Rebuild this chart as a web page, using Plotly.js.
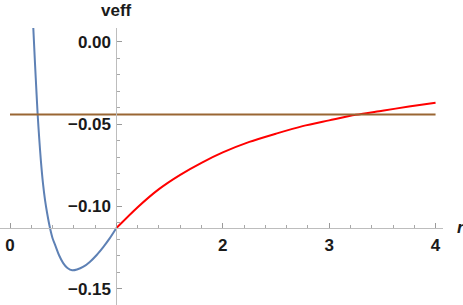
<!DOCTYPE html>
<html>
<head>
<meta charset="utf-8">
<script src="https://cdn.plot.ly/plotly-3.0.1.min.js"></script>
<style>html,body{margin:0;padding:0;background:#fff;}#chart{width:463px;height:305px;}</style>
</head>
<body>
<div id="chart"></div>
<script>
// ---- data ----
const rInner = [0.219, 0.235, 0.25, 0.26, 0.275, 0.29, 0.31, 0.33, 0.35, 0.376, 0.40, 0.43, 0.46, 0.50, 0.54, 0.585, 0.63, 0.69, 0.75, 0.815, 0.88, 0.94, 1.0];
const vInner = [0.0085, -0.0130, -0.0320, -0.0441, -0.0590, -0.0720, -0.0860, -0.0965, -0.1045, -0.1132, -0.1194, -0.1245, -0.1296, -0.1345, -0.1375, -0.1389, -0.1384, -0.1367, -0.1338, -0.1296, -0.1245, -0.1192, -0.1132];
const rOuter = [1.0, 1.2, 1.4, 1.6, 1.8, 2.0, 2.25, 2.5, 2.75, 3.0, 3.25, 3.5, 3.75, 4.0];
const vOuter = [-0.1132, -0.1005, -0.0895, -0.0808, -0.0735, -0.0672, -0.0608, -0.0558, -0.0512, -0.0477, -0.0443, -0.0418, -0.0393, -0.0370];
const rLevel = [0, 4];
const vLevel = [-0.0441, -0.0441];
const xTickVals = [0, 1, 2, 3, 4];
const xTickText = ['0', '', '2', '3', '4'];
const yTickVals = [0, -0.05, -0.10, -0.15];
const yTickText = ['0.00', '\u22120.05', '\u22120.10', '\u22120.15'];
const axisOrigin = [1, -0.1132];
const xLabel = 'r';
const yLabel = 'veff';

// ---- layout helpers ----
const W = 463, H = 305;
const xRange = [-0.094, 4.07];
const yRange = [-0.1600, 0.0085];
const xDom = [0, 443 / W];
const yDom = [0, (H - 28) / H];
const xPos = xDom[0] + (axisOrigin[0] - xRange[0]) / (xRange[1] - xRange[0]) * (xDom[1] - xDom[0]);
const yPos = yDom[0] + (axisOrigin[1] - yRange[0]) / (yRange[1] - yRange[0]) * (yDom[1] - yDom[0]);

const xMinor = [];
for (let i = 0; i <= 20; i++) { const v = i * 0.2; if (Math.abs(v - Math.round(v)) > 1e-6) xMinor.push(+v.toFixed(2)); }
const yMinor = [];
for (let i = 0; i <= 16; i++) { const v = -i * 0.01; if (i % 5 !== 0) yMinor.push(+v.toFixed(2)); }

const font = {family: 'Liberation Sans, Arial, sans-serif', size: 17, color: '#1a1a1a', weight: 'bold'};

const traces = [
  {x: rInner, y: vInner, mode: 'lines', line: {color: '#5E81B5', width: 2, shape: 'spline', smoothing: 0.8}, hoverinfo: 'skip'},
  {x: rOuter, y: vOuter, mode: 'lines', line: {color: '#FF0000', width: 2, shape: 'spline', smoothing: 0.8}, hoverinfo: 'skip'},
  {x: rLevel, y: vLevel, mode: 'lines', line: {color: '#996633', width: 2}, hoverinfo: 'skip'}
];

const layout = {
  width: W, height: H,
  margin: {l: 0, r: 0, t: 0, b: 0, pad: 0},
  paper_bgcolor: '#fff', plot_bgcolor: '#fff',
  showlegend: false,
  xaxis: {
    domain: xDom, range: xRange, anchor: 'free', position: yPos,
    showgrid: false, zeroline: false, showline: true, linecolor: '#bdbdbd', linewidth: 1,
    tickmode: 'array', tickvals: xTickVals, ticktext: xTickText,
    ticks: 'inside', ticklen: 5, tickcolor: '#9a9a9a', tickwidth: 1,
    minor: {tickmode: 'array', tickvals: xMinor, ticks: 'inside', ticklen: 3, tickcolor: '#a8a8a8', showgrid: false},
    tickfont: font, ticklabelstandoff: 2, automargin: false, fixedrange: true
  },
  yaxis: {
    domain: yDom, range: yRange, anchor: 'free', position: xPos,
    showgrid: false, zeroline: false, showline: true, linecolor: '#bdbdbd', linewidth: 1,
    tickmode: 'array', tickvals: yTickVals, ticktext: yTickText,
    ticks: 'inside', ticklen: 5, tickcolor: '#9a9a9a', tickwidth: 1,
    minor: {tickmode: 'array', tickvals: yMinor, ticks: 'inside', ticklen: 3, tickcolor: '#a8a8a8', showgrid: false},
    tickfont: font, ticklabelstandoff: 2, automargin: false, fixedrange: true
  },
  annotations: [
    {text: yLabel, xref: 'paper', yref: 'paper', x: xPos, y: 1 - 10.7 / H, xanchor: 'center', yanchor: 'middle', showarrow: false, font: font},
    {text: '<i>' + xLabel + '</i>', xref: 'paper', yref: 'paper', x: 455 / W, y: 1 - 227 / H, xanchor: 'left', yanchor: 'middle', showarrow: false, font: font}
  ]
};

Plotly.newPlot('chart', traces, layout, {staticPlot: true, displayModeBar: false});
</script>
</body>
</html>
